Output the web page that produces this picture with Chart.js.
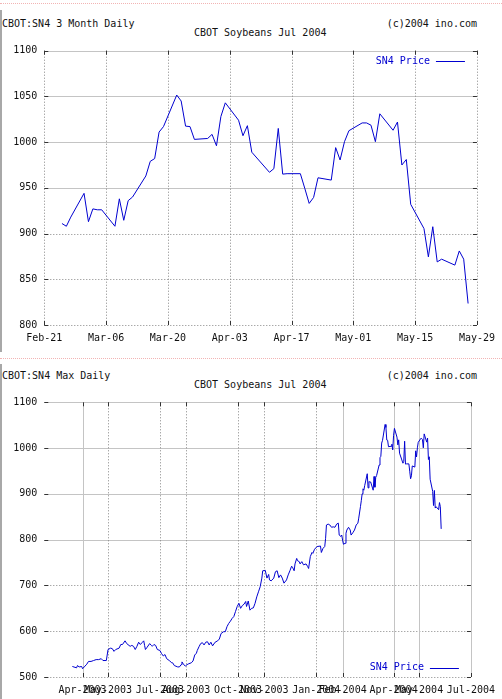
<!DOCTYPE html>
<html>
<head>
<meta charset="utf-8">
<script src="https://cdn.jsdelivr.net/npm/chart.js@4.4.1/dist/chart.umd.min.js"></script>
<style>
body { margin: 0; background: #fff; width: 502px; height: 699px; position: relative; overflow: hidden;
       font-family: "DejaVu Sans Mono", "Liberation Mono", monospace; font-size: 10px; color: #111; }
.dots { position: absolute; left: 0; width: 502px; height: 0; border-top: 1px dotted #f2b4b4; }
.edge { position: absolute; left: 0; width: 2px; background: #a8a8a8; }
.t { position: absolute; white-space: pre; line-height: 12px; }
canvas { position: absolute; left: 0; }
</style>
</head>
<body>
<div class="dots" style="top:3px"></div>
<div class="edge" style="top:10px;height:342px"></div>
<div class="t" style="left:2px;top:18px">CBOT:SN4 3 Month Daily</div>
<div class="t" style="right:25px;top:18px">(c)2004 ino.com</div>
<div class="t" style="left:194px;top:27px">CBOT Soybeans Jul 2004</div>
<canvas id="top3m" width="502" height="355" style="top:0"></canvas>

<div class="dots" style="top:358px"></div>
<div class="edge" style="top:364px;height:335px"></div>
<div class="t" style="left:2px;top:370px">CBOT:SN4 Max Daily</div>
<div class="t" style="right:25px;top:370px">(c)2004 ino.com</div>
<div class="t" style="left:194px;top:379px">CBOT Soybeans Jul 2004</div>
<canvas id="maxDaily" width="502" height="344" style="top:355px"></canvas>

<script>
// 3 month daily (Feb 25 - May 27 2004)
const recentDates = ['2004-02-25','2004-02-26','2004-02-27','2004-03-01','2004-03-02','2004-03-03','2004-03-04','2004-03-05',
  '2004-03-08','2004-03-09','2004-03-10','2004-03-11','2004-03-12','2004-03-15','2004-03-16','2004-03-17','2004-03-18','2004-03-19',
  '2004-03-22','2004-03-23','2004-03-24','2004-03-25','2004-03-26','2004-03-29','2004-03-30','2004-03-31','2004-04-01','2004-04-02',
  '2004-04-05','2004-04-06','2004-04-07','2004-04-08','2004-04-12','2004-04-13','2004-04-14','2004-04-15','2004-04-16',
  '2004-04-19','2004-04-20','2004-04-21','2004-04-22','2004-04-23','2004-04-26','2004-04-27','2004-04-28','2004-04-29','2004-04-30',
  '2004-05-03','2004-05-04','2004-05-05','2004-05-06','2004-05-07','2004-05-10','2004-05-11','2004-05-12','2004-05-13','2004-05-14',
  '2004-05-17','2004-05-18','2004-05-19','2004-05-20','2004-05-21','2004-05-24','2004-05-25','2004-05-26','2004-05-27'];
const recentPrices = [911,908,918,944,913,927,926,926,
  908,938,914.5,936,940,963,979,982,1011,1017,
  1051.5,1045,1017.5,1017,1003,1004,1008.5,996,1028,1043,
  1024,1007,1018,989,967,971,1015,965,965.5,
  965.5,949.5,933,939.5,961,958.5,994,980.5,1000.5,1012.5,
  1021,1021,1018.5,1000.5,1031,1013,1022,975,981,932,
  905.5,874.5,907.5,869,872,865.5,881,872,823.5];

// earlier history for the max chart (Mar 2003 - Feb 24 2004)
const historyDates = ['2003-03-20','2003-03-25','2003-03-26','2003-03-28','2003-03-31','2003-04-01','2003-04-03','2003-04-06',
  '2003-04-08','2003-04-11','2003-04-14','2003-04-17','2003-04-20','2003-04-23','2003-04-25','2003-04-29','2003-05-01','2003-05-04',
  '2003-05-06','2003-05-08','2003-05-10','2003-05-14','2003-05-16','2003-05-18','2003-05-21','2003-05-23','2003-05-27','2003-05-29',
  '2003-05-31','2003-06-02','2003-06-04','2003-06-06','2003-06-08','2003-06-10','2003-06-12','2003-06-13','2003-06-14','2003-06-16',
  '2003-06-19','2003-06-21','2003-06-22','2003-06-24','2003-06-26','2003-06-28','2003-07-01','2003-07-03','2003-07-05','2003-07-07',
  '2003-07-09','2003-07-12','2003-07-15','2003-07-16','2003-07-18','2003-07-22','2003-07-24','2003-07-26','2003-07-27','2003-07-29',
  '2003-07-31','2003-08-02','2003-08-04','2003-08-07','2003-08-09','2003-08-11','2003-08-13','2003-08-14','2003-08-16','2003-08-18',
  '2003-08-20','2003-08-22','2003-08-24','2003-08-26','2003-08-28','2003-08-30','2003-09-01','2003-09-04','2003-09-07','2003-09-09',
  '2003-09-11','2003-09-14','2003-09-16','2003-09-18','2003-09-20','2003-09-22','2003-09-24','2003-09-26','2003-09-28','2003-09-30',
  '2003-10-02','2003-10-04','2003-10-06','2003-10-08','2003-10-10','2003-10-11','2003-10-13','2003-10-15','2003-10-17','2003-10-19',
  '2003-10-21','2003-10-23','2003-10-25','2003-10-27','2003-10-29','2003-10-30','2003-11-02','2003-11-04','2003-11-06','2003-11-07',
  '2003-11-09','2003-11-12','2003-11-14','2003-11-16','2003-11-18','2003-11-20','2003-11-22','2003-11-24','2003-11-27','2003-11-29',
  '2003-12-01','2003-12-03','2003-12-04','2003-12-06','2003-12-07','2003-12-09','2003-12-10','2003-12-12','2003-12-13','2003-12-15',
  '2003-12-17','2003-12-20','2003-12-22','2003-12-23','2003-12-25','2003-12-27','2003-12-28','2003-12-30','2004-01-02','2004-01-06',
  '2004-01-07','2004-01-09','2004-01-11','2004-01-12','2004-01-13','2004-01-15','2004-01-17','2004-01-19','2004-01-21','2004-01-23',
  '2004-01-25','2004-01-27','2004-01-28','2004-01-30','2004-01-31','2004-02-01','2004-02-02','2004-02-04','2004-02-05','2004-02-06',
  '2004-02-08','2004-02-10','2004-02-11','2004-02-13','2004-02-15','2004-02-17','2004-02-19','2004-02-20','2004-02-22','2004-02-23',
  '2004-02-24'];
const historyPrices = [523,520,525,522,523,518,522,528,
  534,534,536,538,538,540,536,536,560,563,
  562,556,560,563,571,571,579,573,567,569,
  567,560,567,576,571,575,579,569,560,565,
  573,569,567,571,569,560,558,551,546,549,
  540,536,531,531,525,522,522,527,533,527,
  524,527,529,531,535,548,552,558,566,573,
  575,570,576,577,570,576,568,576,579,583,
  595,599,599,610,617,622,628,632,643,654,
  661,650,656,659,665,654,666,646,650,651,
  661,675,686,697,716,732,733,716,724,712,
  710,716,730,732,717,723,716,705,712,723,
  732,742,740,732,747,759,754,752,747,752,
  745,747,741,737,763,772,770,779,785,786,
  772,781,785,803,832,834,832,827,828,827,
  834,836,810,807,810,799,790,792,814,821,
  827,821,810,815,821,832,836,847,872,885,
  900];

const recentTickDates = ['2004-02-21','2004-03-06','2004-03-20','2004-04-03','2004-04-17','2004-05-01','2004-05-15','2004-05-29'];
const recentTickLabels = ['Feb-21','Mar-06','Mar-20','Apr-03','Apr-17','May-01','May-15','May-29'];
const maxTickDates = ['2003-04-01','2003-05-01','2003-07-01','2003-08-01','2003-10-01','2003-11-01',
  '2004-01-01','2004-02-01','2004-04-01','2004-05-01','2004-07-01'];
const maxTickLabels = ['Apr-2003','May-2003','Jul-2003','Aug-2003','Oct-2003','Nov-2003',
  'Jan-2004','Feb-2004','Apr-2004','May-2004','Jul-2004'];

const seriesLabel = 'SN4 Price';
const monoFont = { family: "'DejaVu Sans Mono', monospace", size: 10 };

function dayNum(s) {
  const p = s.split('-').map(Number);
  return Date.UTC(p[0], p[1] - 1, p[2]) / 86400000;
}

function strokeLine(ctx, x1, y1, x2, y2, solid) {
  ctx.strokeStyle = solid ? '#c4c4c4' : '#858585';
  ctx.setLineDash(solid ? [] : [1, 2]);
  ctx.beginPath();
  ctx.moveTo(x1, y1);
  ctx.lineTo(x2, y2);
  ctx.stroke();
}

// gnuplot style grid, inner tick marks and the legend inside the plot
const ruling = {
  id: 'ruling',
  beforeDatasetsDraw(chart, args, opts) {
    const { ctx, chartArea: a, scales: { x, y } } = chart;
    ctx.save();
    ctx.lineWidth = 1;
    y.ticks.forEach(t => {
      const py = Math.round(y.getPixelForValue(t.value)) + 0.5;
      strokeLine(ctx, a.left, py, a.right, py, opts.hSolid.includes(t.value));
    });
    x.ticks.forEach((t, i) => {
      const px = Math.round(x.getPixelForValue(t.value)) + 0.5;
      strokeLine(ctx, px, a.top, px, a.bottom, opts.vSolid.includes(i));
    });
    ctx.restore();
  },
  afterDatasetsDraw(chart, args, opts) {
    const { ctx, chartArea: a, scales: { x, y } } = chart;
    ctx.save();
    ctx.lineWidth = 1;
    ctx.strokeStyle = '#333';
    ctx.beginPath();
    y.ticks.forEach(t => {
      const py = Math.round(y.getPixelForValue(t.value)) + 0.5;
      ctx.moveTo(a.left, py); ctx.lineTo(a.left + 4, py);
      ctx.moveTo(a.right - 4, py); ctx.lineTo(a.right, py);
    });
    x.ticks.forEach(t => {
      const px = Math.round(x.getPixelForValue(t.value)) + 0.5;
      ctx.moveTo(px, a.top); ctx.lineTo(px, a.top + 4);
      ctx.moveTo(px, a.bottom - 4); ctx.lineTo(px, a.bottom);
    });
    ctx.stroke();

    const ds = chart.data.datasets[0];
    const ly = opts.legendAtTop ? a.top + 10.5 : a.bottom - 9.5;
    ctx.fillStyle = ds.borderColor;
    ctx.font = "10px 'DejaVu Sans Mono', monospace";
    ctx.textAlign = 'right';
    ctx.textBaseline = 'middle';
    ctx.fillText(ds.label, a.right - 47, ly);
    ctx.strokeStyle = ds.borderColor;
    ctx.beginPath();
    ctx.moveTo(a.right - 41, Math.round(ly) + 0.5);
    ctx.lineTo(a.right - 12, Math.round(ly) + 0.5);
    ctx.stroke();
    ctx.restore();
  }
};

function makeChart(id, cfg) {
  const canvas = document.getElementById(id);
  const points = cfg.dates.map((d, i) => ({ x: dayNum(d), y: cfg.prices[i] }));
  return new Chart(canvas, {
    type: 'line',
    data: {
      datasets: [{
        label: seriesLabel,
        data: points,
        borderColor: '#0000d0',
        borderWidth: 1,
        pointRadius: 0,
        tension: 0
      }]
    },
    options: {
      responsive: false,
      animation: false,
      events: [],
      layout: { padding: { left: 0, top: cfg.plotTop, right: 502 - cfg.plotRight, bottom: 0 } },
      scales: {
        x: {
          type: 'linear',
          min: dayNum(cfg.xMin),
          max: dayNum(cfg.xMax),
          afterBuildTicks: s => { s.ticks = cfg.tickDates.map(d => ({ value: dayNum(d) })); },
          afterFit: s => { s.height = canvas.height - cfg.plotBottom; },
          grid: { display: false, drawTicks: false },
          border: { display: false },
          ticks: {
            autoSkip: false, maxRotation: 0, minRotation: 0, padding: 7,
            color: '#111', font: monoFont,
            callback: (v, i) => cfg.tickLabels[i]
          }
        },
        y: {
          min: cfg.yMin,
          max: cfg.yMax,
          afterFit: s => { s.width = 44.3; },
          grid: { display: false, drawTicks: false },
          border: { display: false },
          ticks: { stepSize: cfg.yStep, padding: 7, color: '#111', font: monoFont,
                   callback: v => String(v) }
        }
      },
      plugins: {
        legend: { display: false },
        tooltip: { enabled: false },
        ruling: { hSolid: cfg.hSolid, vSolid: cfg.vSolid, legendAtTop: cfg.legendAtTop }
      }
    },
    plugins: [ruling]
  });
}

makeChart('top3m', {
  dates: recentDates, prices: recentPrices,
  tickDates: recentTickDates, tickLabels: recentTickLabels,
  xMin: '2004-02-21', xMax: '2004-05-29',
  yMin: 800, yMax: 1100, yStep: 50,
  plotTop: 50.7, plotBottom: 325, plotRight: 478.3,
  hSolid: [1100, 1050, 1000, 950], vSolid: [],
  legendAtTop: true
});

makeChart('maxDaily', {
  dates: historyDates.concat(recentDates), prices: historyPrices.concat(recentPrices),
  tickDates: maxTickDates, tickLabels: maxTickLabels,
  xMin: '2003-02-15', xMax: '2004-07-01',
  yMin: 500, yMax: 1100, yStep: 100,
  plotTop: 47.3, plotBottom: 322, plotRight: 477.3,
  hSolid: [1100, 1000, 900, 800], vSolid: [0, 7, 8, 9, 10],
  legendAtTop: false
});
</script>
</body>
</html>
